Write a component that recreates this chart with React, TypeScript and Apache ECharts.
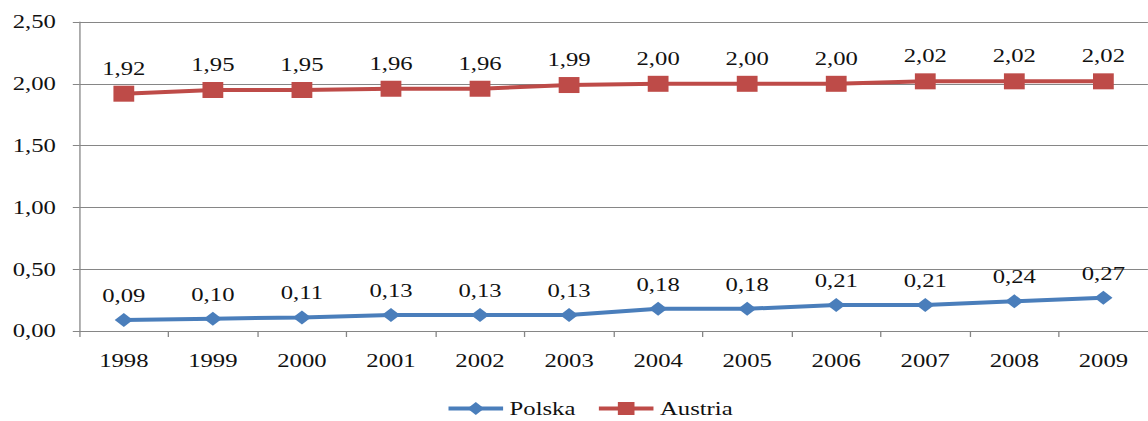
import React, { useEffect, useRef } from "react";
import * as echarts from "echarts";

const years = ["1998", "1999", "2000", "2001", "2002", "2003", "2004", "2005", "2006", "2007", "2008", "2009"];
const polska = [0.09, 0.1, 0.11, 0.13, 0.13, 0.13, 0.18, 0.18, 0.21, 0.21, 0.24, 0.27];
const austria = [1.92, 1.95, 1.95, 1.96, 1.96, 1.99, 2.0, 2.0, 2.0, 2.02, 2.02, 2.02];

const fmt = (v: number) => v.toFixed(2).replace(".", ",");
const FONT = "Liberation Serif";
// the drawing is laid out narrow and widened horizontally
const STRETCH = 1.3;
const W = 1148;
const H = 421;
const INNER_W = Math.round(W / STRETCH);

const labelStyle = {
  show: true,
  position: "top",
  distance: 8,
  fontSize: 19,
  fontFamily: FONT,
  color: "#111",
  formatter: (p: any) => fmt(p.value),
};

export default function App() {
  const ref = useRef<HTMLDivElement>(null);

  useEffect(() => {
    document.body.style.margin = "0";
    const chart = echarts.init(ref.current!, undefined, { renderer: "svg" });
    chart.setOption({
      animation: false,
      textStyle: { fontFamily: FONT },
      grid: { left: 61, right: -9, top: 22, bottom: 90, containLabel: false },
      legend: {
        top: 394,
        left: 338,
        itemWidth: 42,
        itemHeight: 16,
        itemGap: 16,
        lineStyle: { width: 4 },
        textStyle: { fontFamily: FONT, fontSize: 19, color: "#111" },
        data: ["Polska", "Austria"],
      },
      xAxis: {
        type: "category",
        data: years,
        boundaryGap: true,
        axisLine: { lineStyle: { color: "#868686", width: 1 } },
        axisTick: { show: true, length: 6, lineStyle: { color: "#868686" } },
        axisLabel: { color: "#111", fontSize: 19, fontFamily: FONT, margin: 20 },
      },
      yAxis: {
        type: "value",
        min: 0,
        max: 2.5,
        interval: 0.5,
        axisLine: { show: true, lineStyle: { color: "#868686", width: 1 } },
        axisTick: { show: true, length: 5, lineStyle: { color: "#868686" } },
        splitLine: { lineStyle: { color: "#868686", width: 1 } },
        axisLabel: { color: "#111", fontSize: 19, fontFamily: FONT, margin: 18, formatter: (v: number) => fmt(v) },
      },
      series: [
        {
          name: "Polska",
          type: "line",
          data: polska,
          symbol: "diamond",
          symbolSize: 14,
          lineStyle: { color: "#4A7EBB", width: 4 },
          itemStyle: { color: "#4A7EBB" },
          label: labelStyle,
        },
        {
          name: "Austria",
          type: "line",
          data: austria,
          symbol: "rect",
          symbolSize: 16,
          lineStyle: { color: "#BE4B48", width: 4 },
          itemStyle: { color: "#BE4B48" },
          label: labelStyle,
        },
      ],
    });
    return () => chart.dispose();
  }, []);

  return (
    <div style={{ width: W, height: H, overflow: "hidden", position: "relative" }}>
      <div
        ref={ref}
        style={{
          width: INNER_W,
          height: H,
          transform: `scaleX(${STRETCH})`,
          transformOrigin: "0 0",
        }}
      />
    </div>
  );
}
